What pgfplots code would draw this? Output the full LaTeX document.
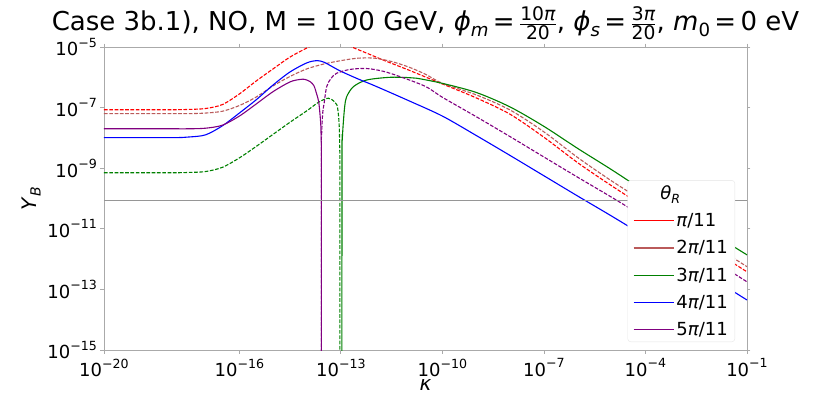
\documentclass[border=0pt]{standalone}
\usepackage{fontspec}
\setmainfont{DejaVu Sans}
\usepackage{graphicx}
\usepackage{pgfplots}
\pgfplotsset{compat=1.18}

\definecolor{cRed}{RGB}{255,0,0}
\definecolor{cBrown}{RGB}{186,90,90}
\definecolor{cGreen}{RGB}{0,128,0}
\definecolor{cBlue}{RGB}{0,0,255}
\definecolor{cPurple}{RGB}{128,0,128}
\definecolor{cObs}{RGB}{150,150,150}
\definecolor{cSpine}{RGB}{170,170,170}

\newcommand\sub[1]{\raisebox{-0.22em}{\scalebox{0.7}{#1}}}
\newcommand\tp[1]{10\raisebox{0.48em}{\scalebox{0.7}{−#1}}}

\begin{document}
\begin{tikzpicture}
\begin{axis}[
    name=ax,
    scale only axis,
    width=643pt, height=303pt,
    xmode=log, ymode=log,
    xmin=1e-20, xmax=1e-1,
    ymin=1e-15, ymax=1e-5,
    xtick={1e-20,1e-16,1e-13,1e-10,1e-7,1e-4,1e-1},
    xticklabels={\tp{20},\tp{16},\tp{13},\tp{10},\tp{7},\tp{4},\tp{1}},
    ytick={1e-15,1e-13,1e-11,1e-9,1e-7,1e-5},
    yticklabels={\tp{15},\tp{13},\tp{11},\tp{9},\tp{7},\tp{5}},
    xminorticks=false, yminorticks=false,
    tick align=outside, major tick length=3.5pt,
    tick style={cSpine, line width=0.8pt},
    axis line style={cSpine, line width=0.8pt},
    tick label style={font=\fontsize{18}{18}\selectfont},
    xticklabel style={inner sep=1pt, yshift=-4pt},
    label style={font=\fontsize{20}{22}\selectfont},
    xlabel={\textit{κ}},
    xlabel style={inner sep=0pt, yshift=-1pt},
    ylabel={\textit{Y}\sub{\textit{B}}},
    title={Case 3b.1), NO, M = 100 GeV, \textit{ϕ}\sub{\textit{m}}\,=\,$\frac{\mbox{\scalebox{0.72}{10\textit{π}}}}{\mbox{\scalebox{0.72}{20}}}$, \textit{ϕ}\sub{\textit{s}}\,=\,$\frac{\mbox{\scalebox{0.72}{3\textit{π}}}}{\mbox{\scalebox{0.72}{20}}}$, \textit{m}\sub{0}\,=\,0 eV},
    title style={font=\fontsize{26}{30}\selectfont, yshift=-2pt},
    legend image code/.code={\draw[#1] (0pt,0pt) -- (40pt,0pt);},
    legend cell align=left,
    legend style={at={(1,0)}, anchor=south east, xshift=-12pt, yshift=8pt,
        fill=white, draw=gray!20, rounded corners=3pt,
        inner xsep=5pt, inner ysep=3pt,
        font=\fontsize{18}{20}\selectfont, row sep=8.5pt},
    every axis plot/.append style={line width=1.1pt},
    dsh/.style={dash pattern=on 3.7pt off 1.6pt},
]
% pi/11 (dashed only)
\addplot[cRed, dsh, smooth, forget plot] coordinates {
(1e-20,8.51e-8) (1e-18,8.51e-8) (3.16e-18,8.71e-8) (1e-17,9.33e-8)
(3.16e-17,1.26e-7) (1e-16,2.82e-7) (3.16e-16,7.59e-7) (1e-15,1.91e-6)
(3.16e-15,4.68e-6) (1e-14,9.33e-6) (2e-14,1.32e-5) (3.16e-14,1.66e-5)
(6.3e-14,1.74e-5) (1.26e-13,1.32e-5) (2.1e-13,1.0e-5) (6.3e-13,6.03e-6)
(1.78e-12,3.72e-6) (1e-11,1.74e-6) (1.74e-11,1.35e-6) (1e-10,6.03e-7)
(1e-9,2.09e-7) (1e-8,6.03e-8) (1e-7,1.05e-8) (1e-6,1.51e-9)
(1e-5,2.63e-10) (1e-4,5.01e-11) (1e-3,1.0e-11) (1e-2,1.95e-12) (1e-1,3.80e-13)};
% 2pi/11 (dashed only)
\addplot[cBrown, dsh, smooth, forget plot] coordinates {
(1e-20,6.31e-8) (1e-18,6.31e-8) (3.16e-18,6.31e-8) (1e-17,6.61e-8)
(3.16e-17,7.59e-8) (1e-16,1.17e-7) (3.16e-16,2.24e-7) (1e-15,5.25e-7)
(3.16e-15,1.07e-6) (1e-14,1.91e-6) (3.16e-14,2.75e-6) (1e-13,3.55e-6)
(3.16e-13,4.27e-6) (1e-12,4.27e-6) (3.16e-12,3.31e-6) (1e-11,2.19e-6)
(3.16e-11,1.26e-6) (1e-10,6.31e-7) (1e-9,2.63e-7) (1e-8,8.32e-8)
(1e-7,1.58e-8) (1e-6,2.24e-9) (1e-5,3.80e-10) (1e-4,7.41e-11)
(1e-3,1.48e-11) (1e-2,2.88e-12) (1e-1,5.62e-13)};
% 3pi/11 dashed part
\addplot[cGreen, dsh, smooth, forget plot] coordinates {
(1e-20,7.08e-10) (1e-18,7.08e-10) (3.16e-18,7.24e-10) (1e-17,7.76e-10)
(3.16e-17,1.07e-9) (1e-16,2.19e-9) (3.16e-16,5.25e-9) (1e-15,1.32e-8)
(3.16e-15,3.31e-8) (1e-14,7.94e-8) (2e-14,1.41e-7) (3.16e-14,1.86e-7)
(4.3e-14,2.04e-7) (5.5e-14,1.82e-7) (7.6e-14,1.23e-7) (8.5e-14,5.5e-8)
(9.0e-14,2.0e-8) (9.25e-14,4.3e-9) (9.32e-14,5.4e-10) (9.33e-14,1e-17)};
% 3pi/11 solid part
\addplot[cGreen, smooth, forget plot] coordinates {
(1.07e-13,1e-17) (1.08e-13,2.9e-9) (1.1e-13,8.7e-9) (1.175e-13,3.0e-8)
(1.3e-13,1.12e-7) (1.48e-13,2.29e-7) (2.34e-13,4.9e-7) (5.75e-13,8.13e-7)
(2.8e-12,1.0e-6) (1e-11,9.77e-7) (1.74e-11,9.33e-7) (1e-10,6.31e-7)
(1e-9,3.16e-7) (1e-8,1.05e-7) (1e-7,2.40e-8) (1e-6,4.47e-9)
(1e-5,8.91e-10) (1e-4,1.66e-10) (1e-3,3.31e-11) (1e-2,6.76e-12) (1e-1,1.38e-12)};
% 4pi/11 (solid only)
\addplot[cBlue, smooth, forget plot] coordinates {
(1e-20,1.02e-8) (1e-18,1.02e-8) (3.16e-18,1.07e-8) (1e-17,1.26e-8)
(3.16e-17,2.51e-8) (1e-16,6.61e-8) (3.16e-16,1.82e-7) (1e-15,5.62e-7)
(3.16e-15,1.51e-6) (1e-14,3.02e-6) (2e-14,3.55e-6) (3.16e-14,3.16e-6)
(5e-14,2.40e-6) (1e-13,1.58e-6) (3.16e-13,8.91e-7) (1e-12,5.25e-7)
(1e-11,1.70e-7) (1e-10,5.25e-8) (1e-9,1.20e-8) (1e-8,2.63e-9)
(1e-7,5.62e-10) (1e-6,1.20e-10) (1e-5,2.63e-11) (1e-4,5.50e-12)
(1e-3,1.12e-12) (1e-2,2.24e-13) (1e-1,4.47e-14)};
% 5pi/11 solid part
\addplot[cPurple, smooth, forget plot] coordinates {
(1e-20,2.0e-8) (1e-18,2.0e-8) (3.16e-18,2.0e-8) (1e-17,2.09e-8)
(3.16e-17,2.63e-8) (1e-16,5.25e-8) (3.16e-16,1.32e-7) (1e-15,3.39e-7)
(3.16e-15,7.08e-7) (6.3e-15,8.51e-7) (8.7e-15,8.51e-7) (1.26e-14,7.08e-7)
(1.6e-14,5.25e-7) (1.9e-14,2.95e-7) (2.2e-14,1.6e-7) (2.4e-14,6.5e-8)
(2.55e-14,2.6e-8) (2.62e-14,7.8e-9) (2.645e-14,1.3e-9) (2.65e-14,1e-17)};
% 5pi/11 dashed part
\addplot[cPurple, dsh, smooth, forget plot] coordinates {
(2.65e-14,1e-17) (2.66e-14,2.6e-9) (2.7e-14,1.3e-8) (2.9e-14,6.5e-8)
(3.2e-14,1.4e-7) (3.8e-14,4.9e-7) (5.0e-14,8.9e-7) (7.4e-14,1.35e-6)
(1.86e-13,1.82e-6) (5.75e-13,1.95e-6) (1.78e-12,1.58e-6) (5.6e-12,1.05e-6)
(3.16e-11,5.0e-7) (1e-10,2.19e-7) (1e-9,5.01e-8) (1e-8,1.10e-8)
(1e-7,2.34e-9) (1e-6,5.01e-10) (1e-5,1.10e-10) (1e-4,2.29e-11)
(1e-3,4.68e-12) (1e-2,9.12e-13) (1e-1,1.78e-13)};
% observed value
\addplot[cObs, line width=1.3pt, forget plot] coordinates {(1e-20,8.7e-11) (1e-1,8.7e-11)};

\addlegendimage{empty legend}
\addlegendentry{\hspace{-16pt}\textit{θ}\sub{\textit{R}}}
\addlegendimage{draw=cRed, line width=1.1pt}
\addlegendentry{\textit{π}/11}
\addlegendimage{draw=cBrown, line width=1.6pt}
\addlegendentry{2\textit{π}/11}
\addlegendimage{draw=cGreen, line width=1.1pt}
\addlegendentry{3\textit{π}/11}
\addlegendimage{draw=cBlue, line width=1.1pt}
\addlegendentry{4\textit{π}/11}
\addlegendimage{draw=cPurple, line width=1.1pt}
\addlegendentry{5\textit{π}/11}
\end{axis}
\pgfresetboundingbox
\path ([shift={(-104pt,-44pt)}]ax.south west) rectangle ([shift={(84pt,47pt)}]ax.north east);
\end{tikzpicture}
\end{document}
